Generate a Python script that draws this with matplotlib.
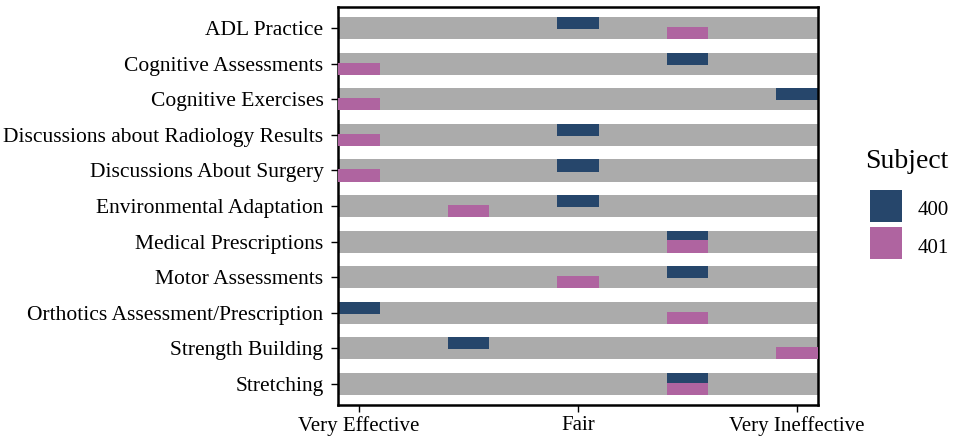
import matplotlib.pyplot as plt
from matplotlib.lines import Line2D
import numpy as np

plt.rcParams['font.family'] = ['Liberation Serif', 'DejaVu Serif']

activities = ['ADL Practice', 'Cognitive Assessments', 'Cognitive Exercises',
              'Discussions about Radiology Results', 'Discussions About Surgery',
              'Environmental Adaptation', 'Medical Prescriptions', 'Motor Assessments',
              'Orthotics Assessment/Prescription', 'Strength Building', 'Stretching']
# 1 = Very Effective ... 5 = Very Ineffective
subj_400 = [3, 4, 5, 3, 3, 3, 4, 4, 1, 2, 4]
subj_401 = [4, 1, 1, 1, 1, 2, 4, 3, 4, 5, 4]
xticks = [1, 3, 5]
xlabels = ['Very Effective', 'Fair', 'Very Ineffective']

c400 = '#26466B'
c401 = '#AF64A0'
grey = '#ABABAB'

fig = plt.figure(figsize=(9.54, 4.40), dpi=100)
ax = fig.add_axes([0.3543, 0.0795, 0.5031, 0.9045])

y = np.arange(len(activities))
xmin, xmax = 0.81, 5.19
ax.barh(y, xmax - xmin, left=xmin, height=0.62, color=grey, zorder=1)

w = 0.38
ax.barh(y - 0.14, w, left=np.array(subj_400) - w / 2, height=0.34, color=c400, zorder=2)
ax.barh(y + 0.14, w, left=np.array(subj_401) - w / 2, height=0.34, color=c401, zorder=3)

ax.set_xlim(xmin, xmax)
ax.set_ylim(len(activities) - 0.4, -0.6)
ax.set_yticks(y)
ax.set_yticklabels(activities, fontsize=15.5)
ax.set_xticks(xticks)
ax.set_xticklabels(xlabels, fontsize=15)
ax.tick_params(axis='y', length=5, width=1, pad=5.5)
ax.tick_params(axis='x', length=5, width=1, pad=3)
for s in ax.spines.values():
    s.set_linewidth(1.8)

# legend: title as separate text, square keys
fig.text(865 / 954, 1 - 162 / 440, 'Subject', fontsize=20, va='center', ha='left')
handles = [Line2D([], [], marker='s', ls='', color=c400, markersize=22.5, markeredgewidth=0, label='400'),
           Line2D([], [], marker='s', ls='', color=c401, markersize=22.5, markeredgewidth=0, label='401')]
leg = fig.legend(handles=handles, loc='upper left',
                 bbox_to_anchor=(870 / 954, 1 - 196 / 440), frameon=False, fontsize=15,
                 handlelength=1.58, handleheight=1.48,
                 labelspacing=0.59, handletextpad=0.72, borderpad=0, borderaxespad=0)

fig.savefig('out.png', dpi=100)
